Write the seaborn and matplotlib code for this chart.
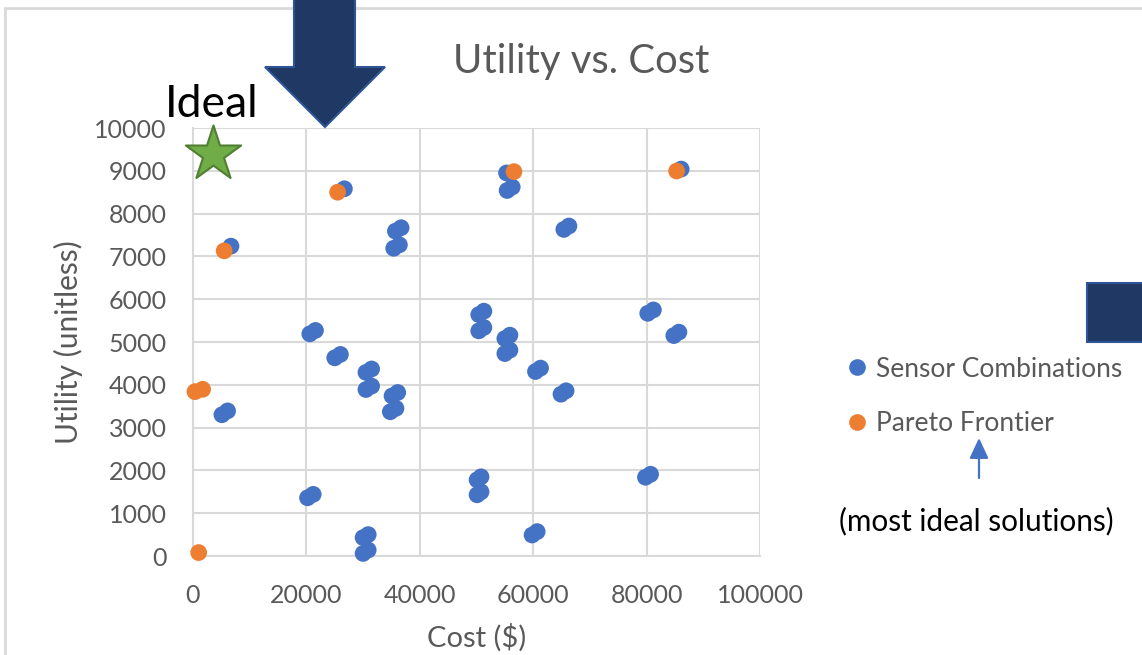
import matplotlib
matplotlib.use("Agg")
import matplotlib.pyplot as plt
from matplotlib.patches import Polygon, Rectangle, FancyArrowPatch
from matplotlib.lines import Line2D
import pandas as pd
import seaborn as sns

# ---- data -------------------------------------------------------------
sensor_cost = [26700, 6700, 35700, 36700, 35400, 36400, 20600, 21600,
               25000, 26000, 30500, 31500, 30500, 31500, 35100, 36100,
               34800, 35800, 5100, 6100, 20200, 21200, 30000, 30900,
               30000, 30900, 55300, 55400, 56300, 65400, 66300, 86100,
               50400, 51300, 50400, 51300, 55000, 55900, 55000, 55900,
               80200, 81200, 84800, 85700, 60400, 61300, 64900, 65800,
               50100, 50800, 50100, 50800, 79800, 80700, 59800, 60700]
sensor_utility = [8580, 7240, 7590, 7670, 7190, 7270, 5190, 5270,
                  4630, 4710, 4290, 4370, 3890, 3970, 3740, 3820,
                  3370, 3450, 3300, 3390, 1360, 1440, 430, 500,
                  60, 140, 8950, 8540, 8620, 7630, 7710, 9040,
                  5640, 5720, 5260, 5340, 5080, 5160, 4730, 4810,
                  5670, 5750, 5150, 5230, 4310, 4390, 3780, 3860,
                  1780, 1850, 1430, 1500, 1840, 1910, 490, 570]

pareto_cost = [25500, 5500, 56600, 85300, 350, 1700, 1000]
pareto_utility = [8500, 7130, 8980, 8995, 3840, 3895, 80]

ideal_cost = [3500]
ideal_utility = [9400]

series_names = ["Sensor Combinations", "Pareto Frontier"]
x_ticks = [0, 20000, 40000, 60000, 80000, 100000]
y_ticks = [0, 1000, 2000, 3000, 4000, 5000, 6000, 7000, 8000, 9000, 10000]

# ---- style ------------------------------------------------------------
sns.set_theme(style="white")
plt.rcParams["font.family"] = ["Lato", "DejaVu Sans"]

BLUE = "#4472C4"
ORANGE = "#ED7D31"
NAVY = "#203864"
NAVY_EDGE = "#2F5597"
GRID = "#D9D9D9"
TEXT = "#595959"

W, H = 1142, 655
fig = plt.figure(figsize=(W / 100, H / 100), dpi=100)


def fx(px):
    return px / W


def fy(py):
    return 1 - py / H


ax = fig.add_axes([fx(193), fy(556), fx(760) - fx(193), fy(128) - fy(556)])

df = pd.DataFrame({
    "Cost": sensor_cost + pareto_cost,
    "Utility": sensor_utility + pareto_utility,
    "Series": [series_names[0]] * len(sensor_cost) + [series_names[1]] * len(pareto_cost),
})

sns.scatterplot(data=df, x="Cost", y="Utility", hue="Series",
                palette={series_names[0]: BLUE, series_names[1]: ORANGE},
                s=145, linewidth=0, alpha=1, legend=False, ax=ax,
                clip_on=False, zorder=3)

# ideal point marker
sns.scatterplot(x=ideal_cost, y=ideal_utility, marker="*", s=1750,
                color="#70AD47", edgecolor="#507E32", linewidth=1.5,
                ax=ax, clip_on=False, zorder=4, legend=False)

ax.set_xlim(0, 100000)
ax.set_ylim(0, 10000)
ax.set_xticks(x_ticks)
ax.set_yticks(y_ticks)
ax.set_xticklabels([str(v) for v in x_ticks])
ax.set_yticklabels([str(v) for v in y_ticks])
ax.grid(True, color=GRID, linewidth=1.5)
ax.set_axisbelow(True)
for sp in ax.spines.values():
    sp.set_visible(False)
for side in ("left", "bottom"):
    ax.spines[side].set_visible(True)
    ax.spines[side].set_color(GRID)
    ax.spines[side].set_linewidth(1.5)
ax.tick_params(axis="both", length=0, labelsize=18, colors=TEXT)
ax.tick_params(axis="y", pad=19)
ax.tick_params(axis="x", pad=20)

ax.set_xlabel("Cost ($)", fontsize=21, color=TEXT, va="center")
ax.xaxis.set_label_coords(0.5, (556 - 638) / 428)
ax.set_ylabel("Utility (unitless)", fontsize=21.5, color=TEXT, va="center")
ax.yaxis.set_label_coords((68 - 193) / 567, 0.5)

# title
fig.text(fx(581), fy(62), "Utility vs. Cost", fontsize=28.8, color=TEXT,
         ha="center", va="center")

# legend
handles = [Line2D([0], [0], marker="o", linestyle="none", markersize=12,
                  markerfacecolor=c, markeredgewidth=0)
           for c in (BLUE, ORANGE)]
fig.legend(handles, series_names, loc="center left",
           bbox_to_anchor=(fx(845), fy(396.5)), frameon=False, fontsize=19,
           labelcolor=TEXT, handlelength=0.9, handletextpad=0.28,
           labelspacing=1.12, borderpad=0, borderaxespad=0)

# annotations
fig.text(fx(212), fy(117), "Ideal", fontsize=32, color="black",
         ha="center", va="baseline")
fig.text(fx(976), fy(521), "(most ideal solutions)", fontsize=21.4,
         color="black", ha="center", va="center")
fig.add_artist(FancyArrowPatch(
    (fx(979), fy(478)), (fx(979), fy(438)), transform=fig.transFigure,
    arrowstyle="-|>,head_length=0.62,head_width=0.29", mutation_scale=20,
    shrinkA=0, shrinkB=0, color=BLUE, linewidth=1.6))

# navy pointer arrow and block
arrow_px = [(294, -5), (355, -5), (355, 67), (385, 67), (325, 127),
            (265, 67), (294, 67)]
fig.add_artist(Polygon([(fx(x), fy(y)) for x, y in arrow_px], closed=True,
                       transform=fig.transFigure, facecolor=NAVY,
                       edgecolor=NAVY_EDGE, linewidth=1.5, zorder=5))
fig.add_artist(Rectangle((fx(1087), fy(342)), fx(80), fy(283) - fy(342),
                         transform=fig.transFigure, facecolor=NAVY,
                         edgecolor=NAVY_EDGE, linewidth=1.5, zorder=5))

# chart frame
fig.add_artist(Line2D([fx(5), fx(5)], [fy(8), fy(660)],
                      transform=fig.transFigure, color=GRID, linewidth=2))
fig.add_artist(Line2D([fx(5), fx(1150)], [fy(8), fy(8)],
                      transform=fig.transFigure, color=GRID, linewidth=2))

fig.savefig("out.png", dpi=100)
